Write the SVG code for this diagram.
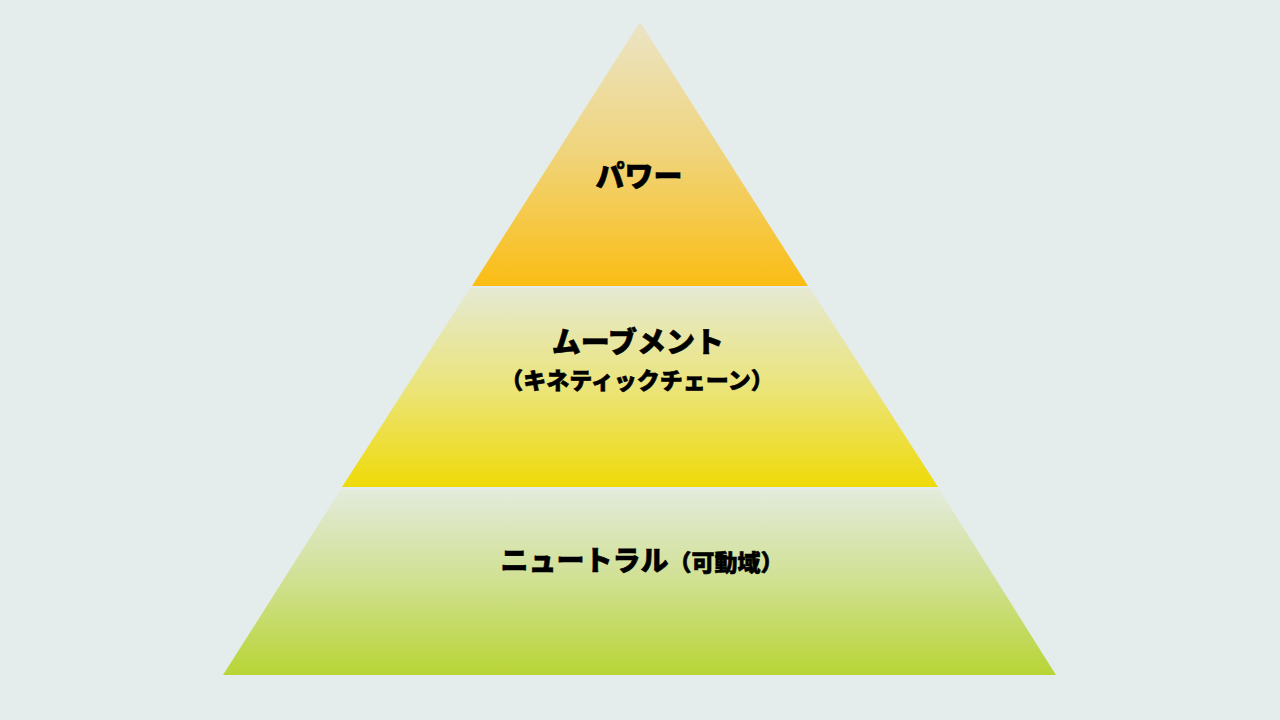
<svg xmlns="http://www.w3.org/2000/svg" width="1280" height="720" viewBox="0 0 1280 720">
<defs>
<linearGradient id="g1" x1="0" y1="0" x2="0" y2="1">
<stop offset="0" stop-color="#ebe4c6"/>
<stop offset="0.5" stop-color="#f0d47a"/>
<stop offset="1" stop-color="#fbbd14"/>
</linearGradient>
<linearGradient id="g2" x1="0" y1="0" x2="0" y2="1">
<stop offset="0" stop-color="#e5e9d2"/>
<stop offset="0.5" stop-color="#ebe47a"/>
<stop offset="1" stop-color="#efda08"/>
</linearGradient>
<linearGradient id="g3" x1="0" y1="0" x2="0" y2="1">
<stop offset="0" stop-color="#e3ebdc"/>
<stop offset="0.5" stop-color="#d0e090"/>
<stop offset="1" stop-color="#b8d535"/>
</linearGradient>
</defs>
<style>
.t{font-family:"Noto Sans CJK JP","Noto Sans",sans-serif;font-weight:900;fill:#000;stroke:#000;stroke-width:0.6;text-anchor:middle}
.l{font-size:29px}
.m{font-size:28px}
.s{font-size:23px}
</style>
<rect width="1280" height="720" fill="#e4edec"/>
<g id="tier-power">
<polygon points="640,22 808,286 472,286" fill="url(#g1)"/>
<text class="t l" x="639" y="187">パワー</text>
</g>
<g id="tier-movement">
<polygon points="470,288 810,288 938,487 342,487" fill="url(#g2)"/>
<text class="t l" x="638" y="353">ムーブメント</text>
<text class="t s" x="637" y="389">（キネティックチェーン）</text>
</g>
<g id="tier-neutral">
<polygon points="341,489 939,489 1056,675 223,675" fill="url(#g3)"/>
<text class="t" x="642" y="571"><tspan class="m">ニュートラル</tspan><tspan class="s">（可動域）</tspan></text>
</g>
<g id="connectors"/>
</svg>
